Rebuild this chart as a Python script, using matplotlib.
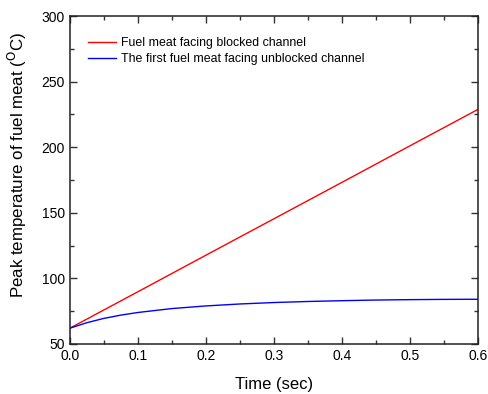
import numpy as np
import matplotlib
matplotlib.use("Agg")
import matplotlib.pyplot as plt
from matplotlib.ticker import MultipleLocator

plt.rcParams['font.family'] = ['Liberation Sans', 'DejaVu Sans']

time_blocked = [0.0, 0.1, 0.2, 0.3, 0.4, 0.5, 0.6]
temp_blocked = [62.0, 89.8, 117.7, 145.5, 173.3, 201.2, 229.0]

time_unblocked = [0.0, 0.025, 0.05, 0.075, 0.1, 0.15, 0.2, 0.25, 0.3, 0.35, 0.4, 0.45, 0.5, 0.55, 0.6]
temp_unblocked = [62.0, 66.2, 69.5, 72.0, 74.0, 77.0, 79.0, 80.5, 81.6, 82.4, 83.0, 83.5, 83.8, 84.0, 84.1]

fig = plt.figure(figsize=(4.88, 3.94), dpi=100)
ax = fig.add_axes([0.143, 0.127, 0.837, 0.832])

ax.plot(time_blocked, temp_blocked, color="red", lw=1.0, label="Fuel meat facing blocked channel")
ax.plot(time_unblocked, temp_unblocked, color="blue", lw=1.0, label="The first fuel meat facing unblocked channel")

ax.set_xlim(0, 0.6)
ax.set_ylim(50, 300)
ax.xaxis.set_major_locator(MultipleLocator(0.1))
ax.xaxis.set_minor_locator(MultipleLocator(0.05))
ax.yaxis.set_major_locator(MultipleLocator(50))
ax.yaxis.set_minor_locator(MultipleLocator(25))
ax.tick_params(which="both", direction="in", top=True, right=True, labelsize=10, color="#333333", width=1.0)
ax.tick_params(which="major", length=5)
ax.tick_params(which="minor", length=3)
for s in ax.spines.values():
    s.set_linewidth(1.1)
    s.set_color("#222222")
ax.xaxis.set_major_formatter(plt.FuncFormatter(lambda v, p: f"{v:.1f}"))

ax.set_xlabel("Time (sec)", fontsize=12, labelpad=10)
ax.set_ylabel("Peak temperature of fuel meat ($^{\\mathrm{O}}$C)", fontsize=12.2)
ax.yaxis.set_label_coords(-0.1, 0.545)

ax.legend(loc="upper left", bbox_to_anchor=(0.032, 0.951), borderaxespad=0, frameon=False,
          fontsize=8.9, handlelength=2.3, handletextpad=0.4, labelspacing=0.3)

fig.savefig("out.png", dpi=100)
